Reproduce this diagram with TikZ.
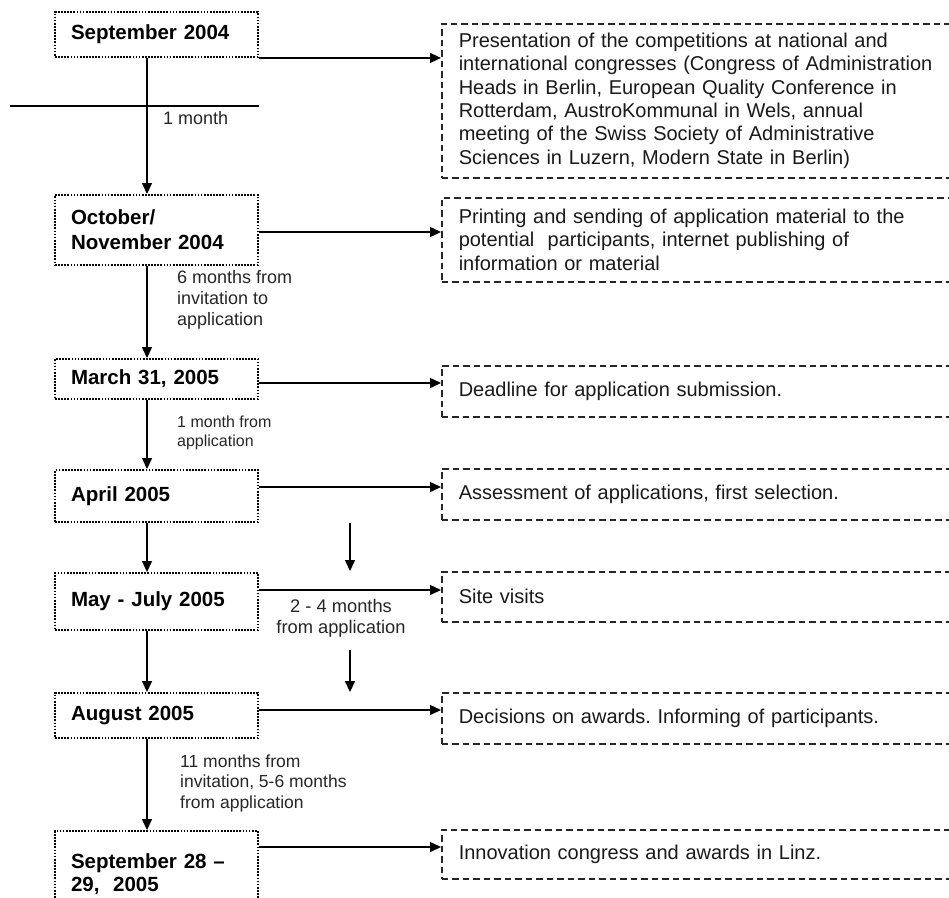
\documentclass[tikz,border=0pt]{standalone}
\usepackage{fontspec}
\setmainfont{Liberation Sans}
\usetikzlibrary{arrows.meta}
\frenchspacing
\begin{document}
\frenchspacing
\begin{tikzpicture}[x=1pt,y=-1pt,
  lbox/.style={draw=black, line width=1.9pt, dash pattern=on 1.7pt off 1.4pt,
    minimum width=203pt, text width=171pt, inner xsep=16pt, inner ysep=0pt,
    align=left, font=\fontsize{20.5}{25}\selectfont\bfseries},
  rbox/.style={draw=black!85, line width=1.5pt, dash pattern=on 6.5pt off 4pt,
    minimum width=524pt, text width=490pt, inner xsep=17pt, inner ysep=0pt,
    align=left, anchor=north west, text=black!90,
    font=\fontsize{20}{23.3}\selectfont},
  lab/.style={inner sep=0pt, align=left, text=black!85},
  arr/.style={line width=1.5pt, -{Triangle[length=11pt,width=10pt]}},
  varr/.style={line width=1.3pt, -{Triangle[length=11pt,width=10pt]}}
]
\useasboundingbox (0,0) rectangle (949,897);
\clip (0,0) rectangle (949,897);

% left boxes
\node[lbox, minimum height=45pt] (l1) at (156.5,34.5) {September 2004};
\node[lbox, minimum height=70pt] (l2) at (156.5,230) {October/\\November 2004};
\node[lbox, minimum height=40pt] (l3) at (156.5,379) {March 31, 2005};
\node[lbox, minimum height=52pt] (l4) at (156.5,496) {April 2005};
\node[lbox, minimum height=57pt] (l5) at (156.5,601.5) {May - July 2005};
\node[lbox, minimum height=45pt] (l6) at (156.5,715.5) {August 2005};
\node[lbox, minimum height=87pt, font=\fontsize{20.5}{23}\selectfont\bfseries] (l7) at (156.5,874.5) {September 28 --\\29,\ \ 2005};

% right boxes
\node[rbox, minimum height=154pt] (r1) at (441,23) {Presentation of the competitions at national and\\international congresses (Congress of Administration\\Heads in Berlin, European Quality Conference in\\Rotterdam, AustroKommunal in Wels, annual\\meeting of the Swiss Society of Administrative\\Sciences in Luzern, Modern State in Berlin)};
\node[rbox, minimum height=84pt] (r2) at (441,197) {Printing and sending of application material to the\\potential\ \ participants, internet publishing of\\information or material};
\node[rbox, minimum height=51pt] (r3) at (441,365) {Deadline for application submission.};
\node[rbox, minimum height=51pt] (r4) at (441,468) {Assessment of applications, first selection.};
\node[rbox, minimum height=50pt] (r5) at (441,571) {Site visits};
\node[rbox, minimum height=51pt] (r6) at (441,692) {Decisions on awards. Informing of participants.};
\node[rbox, minimum height=49pt] (r7) at (441,829) {Innovation congress and awards in Linz.};

% helper coordinates
\coordinate (vx) at (147,0);
\coordinate (mx) at (350,0);
\coordinate (h2) at (0,232);
\coordinate (h3) at (0,383);
\coordinate (h4) at (0,487);
\coordinate (h5) at (0,590);
\coordinate (h6) at (0,710);
\coordinate (h7) at (0,847);
\coordinate (c1) at (10,106);
\coordinate (c2) at (259,106);

% horizontal connectors
\draw[arr] (l1.south east) -- (l1.south east -| r1.west);
\draw[arr] (l2.east |- h2) -- (r2.west |- h2);
\draw[arr] (l3.east |- h3) -- (r3.west |- h3);
\draw[arr] (l4.east |- h4) -- (r4.west |- h4);
\draw[arr] (l5.east |- h5) -- (r5.west |- h5);
\draw[arr] (l6.east |- h6) -- (r6.west |- h6);
\draw[arr] (l7.east |- h7) -- (r7.west |- h7);

% vertical connectors
\draw[varr] (vx |- l1.south) -- (vx |- l2.north);
\draw[varr] (vx |- l2.south) -- (vx |- l3.north);
\draw[varr] (vx |- l3.south) -- (vx |- l4.north);
\draw[varr] (vx |- l4.south) -- (vx |- l5.north);
\draw[varr] (vx |- l5.south) -- (vx |- l6.north);
\draw[varr] (vx |- l6.south) -- (vx |- l7.north);

% stray horizontal line
\draw[line width=1.2pt] (c1) -- (c2);

% labels
\node[lab, anchor=west, font=\fontsize{18}{21}\selectfont] (t1) at (163,118) {1 month};
\node[lab, anchor=west, font=\fontsize{18}{21}\selectfont] (t2) at (177,300) {6 months from\\invitation to\\application};
\node[lab, anchor=west, font=\fontsize{16}{19}\selectfont] (t3) at (177,432.5) {1 month from\\application};
\node[lab, align=center, font=\fontsize{18.3}{21}\selectfont] (t4) at (341,618.5) {2 - 4 months\\from application};
\node[lab, anchor=west, font=\fontsize{17.5}{20.5}\selectfont] (t5) at (180,783) {11 months from\\invitation, 5-6 months\\from application};

% middle arrows
\draw[arr] (mx |- l4.south) -- (mx |- r5.north);
\draw[arr] (mx |- t4.south) ++(0,12) coordinate (m2) (m2) -- (mx |- l6.north);
\end{tikzpicture}
\end{document}
